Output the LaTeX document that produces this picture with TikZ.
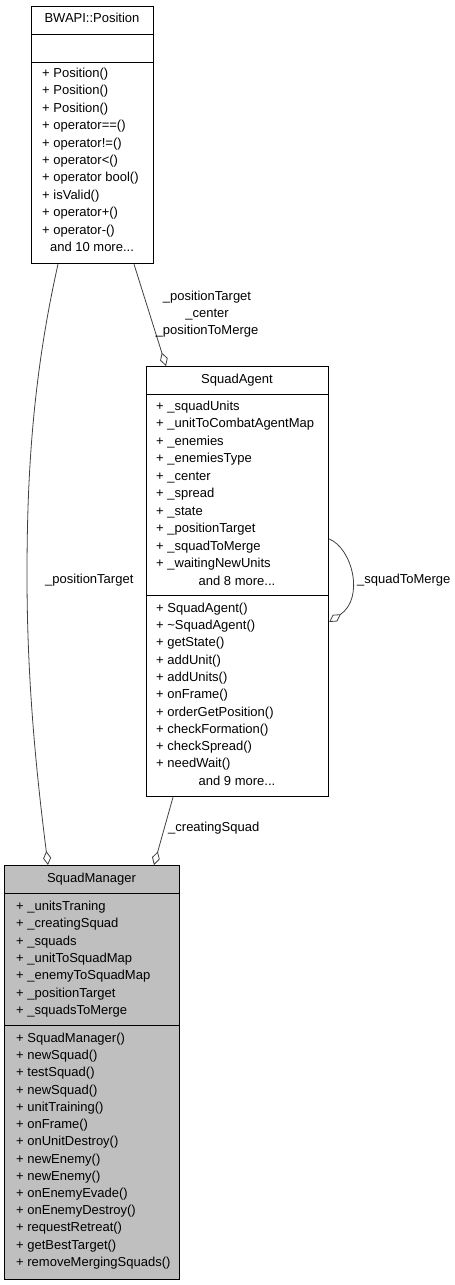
\documentclass[tikz,border=0pt]{standalone}
\usepackage{fontspec}
\setmainfont{Liberation Sans}
\usetikzlibrary{arrows.meta}
\definecolor{edgecol}{HTML}{404040}
\definecolor{grayfill}{HTML}{BFBFBF}
\tikzset{
  part/.style={draw=black, line width=1.2pt, rectangle, inner sep=0pt, anchor=north west},
  txt/.style={font=\fontsize{13}{15}\selectfont, inner sep=0pt, text height=9.6pt, text depth=2.8pt},
  member/.style={txt, anchor=west},
  lbl/.style={font=\fontsize{13}{17}\selectfont, inner sep=0pt},
  assoc/.style={draw=edgecol, line width=0.8pt, -{Diamond[open, length=14pt, width=8pt, line width=0.8pt]}},
}
\begin{document}
\begin{tikzpicture}[x=1pt,y=-1pt]
\useasboundingbox (0,0) rectangle (455,1285);

% ---------- BWAPI::Position ----------
\node[part, minimum width=122pt, minimum height=28pt] (posT) at (31,6) {};
\node[part, minimum width=122pt, minimum height=28pt] (posA) at (31,34) {};
\node[part, minimum width=122pt, minimum height=201pt] (posM) at (31,62) {};
\node[txt] (posTitle) at (92,19.5) {BWAPI::Position};
\foreach \t [count=\i from 0] in {Position(),Position(),Position(),operator==(),operator!=(),operator<(),operator bool(),isValid(),operator+(),operator-()}
  \node[member] (posm\i) at (42,74+17.4*\i) {+ \t};
\node[txt] (posmore) at (92,248) {and 10 more...};

% ---------- SquadAgent ----------
\node[part, minimum width=182pt, minimum height=28pt] (saT) at (146,366) {};
\node[part, minimum width=182pt, minimum height=201pt] (saA) at (146,394) {};
\node[part, minimum width=182pt, minimum height=201pt] (saM) at (146,595) {};
\node[txt] (saTitle) at (237,380) {SquadAgent};
\foreach \t [count=\i from 0] in {\_squadUnits,\_unitToCombatAgentMap,\_enemies,\_enemiesType,\_center,\_spread,\_state,\_positionTarget,\_squadToMerge,\_waitingNewUnits}
  \node[member] (saa\i) at (156,406.7+17.5*\i) {+ \t};
\node[txt] (saamore) at (237,581.7) {and 8 more...};
\foreach \t [count=\i from 0] in {SquadAgent(),\textasciitilde SquadAgent(),getState(),addUnit(),addUnits(),onFrame(),orderGetPosition(),checkFormation(),checkSpread(),needWait()}
  \node[member] (sam\i) at (156,609+17.27*\i) {+ \t};
\node[txt] (sammore) at (237,781.7) {and 9 more...};

% ---------- SquadManager ----------
\node[part, fill=grayfill, minimum width=175pt, minimum height=28pt] (smT) at (4,865) {};
\node[part, fill=grayfill, minimum width=175pt, minimum height=132pt] (smA) at (4,893) {};
\node[part, fill=grayfill, minimum width=175pt, minimum height=254pt] (smM) at (4,1025) {};
\node[txt] (smTitle) at (91.5,879) {SquadManager};
\foreach \t [count=\i from 0] in {\_unitsTraning,\_creatingSquad,\_squads,\_unitToSquadMap,\_enemyToSquadMap,\_positionTarget,\_squadsToMerge}
  \node[member] (sma\i) at (16,907+17.33*\i) {+ \t};
\foreach \t [count=\i from 0] in {SquadManager(),newSquad(),testSquad(),newSquad(),unitTraining(),onFrame(),onUnitDestroy(),newEnemy(),newEnemy(),onEnemyEvade(),onEnemyDestroy(),requestRetreat(),getBestTarget(),removeMergingSquads()}
  \node[member] (smm\i) at (16,1039+17.23*\i) {+ \t};

% ---------- connectors ----------
\coordinate (midL) at (27,575);
\draw[assoc] ([xshift=27pt]posM.south west)
   .. controls (32,380) and (27,480) .. (midL)
   .. controls (27,680) and (36,770) .. ([xshift=44pt]smT.north west);
\node[lbl, anchor=west] (lPT) at (45,580) {\_positionTarget};

\draw[assoc] ([xshift=103pt]posM.south west) -- ([xshift=20pt]saT.north west);
\node[lbl, align=center] (lPos) at (207,314) {\_positionTarget\\\_center\\\_positionToMerge};

\draw[assoc] ([xshift=27pt]saM.south west) -- ([xshift=150pt]smT.north west);
\node[lbl, anchor=west] (lCS) at (168,828) {\_creatingSquad};

\draw[assoc] ([yshift=-145pt]saA.north east)
   .. controls (352,548) and (365,598) .. ([yshift=-27pt]saM.north east);
\node[lbl, anchor=west] (lSM) at (357,580) {\_squadToMerge};
\end{tikzpicture}
\end{document}
